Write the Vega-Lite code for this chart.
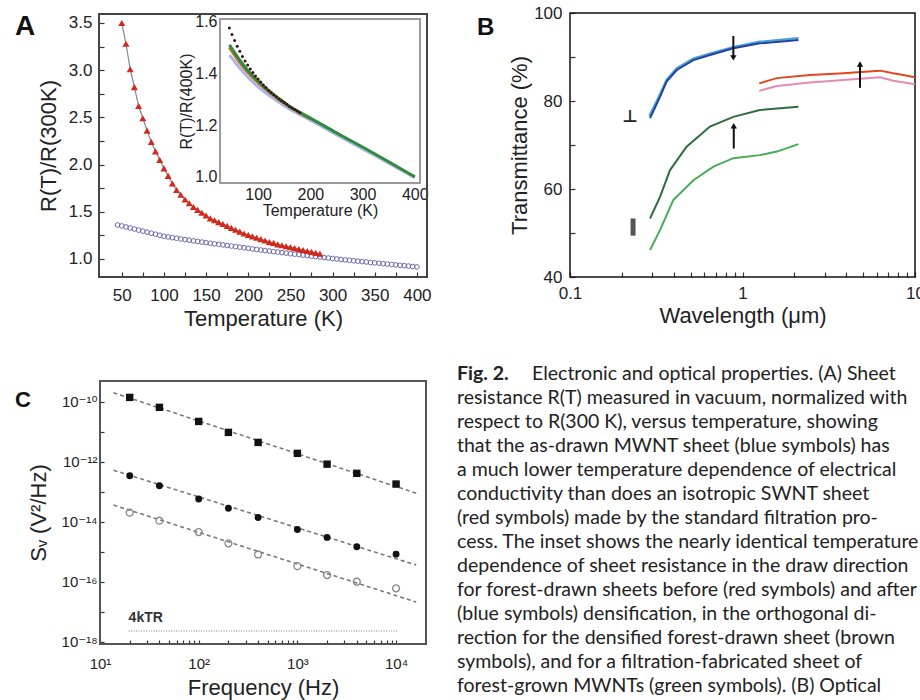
{
  "$schema": "https://vega.github.io/schema/vega-lite/v6.json",
  "width": 920,
  "height": 700,
  "autosize": {"type": "none"},
  "padding": 0,
  "background": "white",
  "config": {
    "view": {"stroke": null},
    "font": "Liberation Sans",
    "axis": {"grid": false, "domain": false, "labelFont": "Liberation Sans, DejaVu Sans", "titleFont": "Liberation Sans, DejaVu Sans", "labelColor": "#222", "titleColor": "#222", "tickColor": "#333", "titleFontWeight": "normal", "labelFlush": false, "labelOverlap": false, "tickWidth": 1.2}
  },
  "datasets": {
    "redA": [
      {"T":50,"R":3.50},{"T":55,"R":3.28},{"T":60,"R":3.01},{"T":65,"R":2.82},{"T":70,"R":2.62},{"T":75,"R":2.49},{"T":80,"R":2.36},{"T":85,"R":2.24},{"T":90,"R":2.14},{"T":95,"R":2.05},
      {"T":100,"R":1.96},{"T":105,"R":1.88},{"T":110,"R":1.80},{"T":115,"R":1.73},{"T":120,"R":1.68},{"T":125,"R":1.63},{"T":130,"R":1.59},{"T":135,"R":1.55},{"T":140,"R":1.52},{"T":145,"R":1.49},
      {"T":150,"R":1.46},{"T":155,"R":1.43},{"T":160,"R":1.41},{"T":165,"R":1.39},{"T":170,"R":1.37},{"T":175,"R":1.35},{"T":180,"R":1.33},{"T":185,"R":1.31},{"T":190,"R":1.29},{"T":195,"R":1.27},
      {"T":200,"R":1.255},{"T":205,"R":1.24},{"T":210,"R":1.225},{"T":215,"R":1.21},{"T":220,"R":1.195},{"T":225,"R":1.18},{"T":230,"R":1.17},{"T":235,"R":1.155},{"T":240,"R":1.145},{"T":245,"R":1.135},
      {"T":250,"R":1.125},{"T":255,"R":1.115},{"T":260,"R":1.105},{"T":265,"R":1.095},{"T":270,"R":1.085},{"T":275,"R":1.075},{"T":280,"R":1.065},{"T":285,"R":1.055}
    ],
    "blueA": [
      {"T":45,"R":1.36},{"T":50,"R":1.35},{"T":55,"R":1.339},{"T":60,"R":1.328},{"T":65,"R":1.317},{"T":70,"R":1.306},{"T":75,"R":1.295},{"T":80,"R":1.284},{"T":85,"R":1.273},{"T":90,"R":1.262},
      {"T":95,"R":1.251},{"T":100,"R":1.241},{"T":105,"R":1.233},{"T":110,"R":1.226},{"T":115,"R":1.219},{"T":120,"R":1.212},{"T":125,"R":1.205},{"T":130,"R":1.199},{"T":135,"R":1.192},{"T":140,"R":1.186},
      {"T":145,"R":1.179},{"T":150,"R":1.173},{"T":155,"R":1.167},{"T":160,"R":1.161},{"T":165,"R":1.155},{"T":170,"R":1.149},{"T":175,"R":1.143},{"T":180,"R":1.137},{"T":185,"R":1.131},{"T":190,"R":1.125},
      {"T":195,"R":1.119},{"T":200,"R":1.113},{"T":205,"R":1.107},{"T":210,"R":1.101},{"T":215,"R":1.095},{"T":220,"R":1.089},{"T":225,"R":1.084},{"T":230,"R":1.078},{"T":235,"R":1.073},{"T":240,"R":1.067},
      {"T":245,"R":1.062},{"T":250,"R":1.056},{"T":255,"R":1.051},{"T":260,"R":1.046},{"T":265,"R":1.041},{"T":270,"R":1.035},{"T":275,"R":1.030},{"T":280,"R":1.025},{"T":285,"R":1.020},{"T":290,"R":1.015},
      {"T":295,"R":1.010},{"T":300,"R":1.005},{"T":305,"R":1.000},{"T":310,"R":0.995},{"T":315,"R":0.990},{"T":320,"R":0.986},{"T":325,"R":0.981},{"T":330,"R":0.977},{"T":335,"R":0.972},{"T":340,"R":0.968},
      {"T":345,"R":0.963},{"T":350,"R":0.959},{"T":355,"R":0.955},{"T":360,"R":0.950},{"T":365,"R":0.946},{"T":370,"R":0.942},{"T":375,"R":0.937},{"T":380,"R":0.933},{"T":385,"R":0.929},{"T":390,"R":0.925},
      {"T":395,"R":0.920},{"T":400,"R":0.916}
    ],
    "inset": [
      {"s":"blue","T":45,"R":1.47},{"s":"blue","T":50,"R":1.458},{"s":"blue","T":60,"R":1.432},{"s":"blue","T":70,"R":1.408},{"s":"blue","T":80,"R":1.386},{"s":"blue","T":90,"R":1.366},{"s":"blue","T":100,"R":1.348},{"s":"blue","T":120,"R":1.316},{"s":"blue","T":140,"R":1.288},{"s":"blue","T":160,"R":1.262},{"s":"blue","T":180,"R":1.24},{"s":"blue","T":200,"R":1.219},{"s":"blue","T":250,"R":1.163},{"s":"blue","T":300,"R":1.108},{"s":"blue","T":350,"R":1.053},{"s":"blue","T":400,"R":0.997},
      {"s":"orange","T":45,"R":1.50},{"s":"orange","T":50,"R":1.485},{"s":"orange","T":60,"R":1.455},{"s":"orange","T":70,"R":1.428},{"s":"orange","T":80,"R":1.404},{"s":"orange","T":90,"R":1.383},{"s":"orange","T":100,"R":1.364},{"s":"orange","T":120,"R":1.329},{"s":"orange","T":140,"R":1.299},{"s":"orange","T":160,"R":1.271},{"s":"orange","T":180,"R":1.247},{"s":"orange","T":200,"R":1.225},
      {"s":"green","T":45,"R":1.51},{"s":"green","T":50,"R":1.495},{"s":"green","T":60,"R":1.465},{"s":"green","T":70,"R":1.437},{"s":"green","T":80,"R":1.412},{"s":"green","T":90,"R":1.39},{"s":"green","T":100,"R":1.37},{"s":"green","T":120,"R":1.333},{"s":"green","T":140,"R":1.302},{"s":"green","T":160,"R":1.273},{"s":"green","T":180,"R":1.249},{"s":"green","T":200,"R":1.227},{"s":"green","T":250,"R":1.17},{"s":"green","T":300,"R":1.115},{"s":"green","T":350,"R":1.058},{"s":"green","T":400,"R":1.0}
    ],
    "insetDots": [
      {"T":45,"R":1.575},{"T":50,"R":1.55},{"T":55,"R":1.527},{"T":60,"R":1.505},{"T":65,"R":1.485},{"T":70,"R":1.465},{"T":75,"R":1.448},{"T":80,"R":1.432},{"T":85,"R":1.417},{"T":90,"R":1.403},
      {"T":95,"R":1.39},{"T":100,"R":1.378},{"T":105,"R":1.366},{"T":110,"R":1.355},{"T":115,"R":1.345},{"T":120,"R":1.335},{"T":125,"R":1.326},{"T":130,"R":1.317},{"T":135,"R":1.309},{"T":140,"R":1.301},
      {"T":145,"R":1.294},{"T":150,"R":1.287},{"T":155,"R":1.28},{"T":160,"R":1.272},{"T":165,"R":1.266},{"T":170,"R":1.26},{"T":175,"R":1.254},{"T":180,"R":1.248}
    ],
    "bcurves": [
      {"s":"blueL","lam":0.288,"v":76.6},{"s":"blueL","lam":0.333,"v":81.6},{"s":"blueL","lam":0.363,"v":84.9},{"s":"blueL","lam":0.416,"v":87.5},{"s":"blueL","lam":0.519,"v":89.7},{"s":"blueL","lam":0.648,"v":90.8},{"s":"blueL","lam":0.885,"v":92.3},{"s":"blueL","lam":1.26,"v":93.5},{"s":"blueL","lam":2.11,"v":94.3},
      {"s":"blueD","lam":0.291,"v":76.1},{"s":"blueD","lam":0.333,"v":81.0},{"s":"blueD","lam":0.363,"v":84.4},{"s":"blueD","lam":0.416,"v":87.05},{"s":"blueD","lam":0.519,"v":89.3},{"s":"blueD","lam":0.648,"v":90.45},{"s":"blueD","lam":0.885,"v":91.98},{"s":"blueD","lam":1.26,"v":93.1},{"s":"blueD","lam":2.11,"v":93.86},
      {"s":"greenD","lam":0.291,"v":53.3},{"s":"greenD","lam":0.333,"v":58.25},{"s":"greenD","lam":0.38,"v":64.3},{"s":"greenD","lam":0.474,"v":69.6},{"s":"greenD","lam":0.648,"v":74.2},{"s":"greenD","lam":0.885,"v":76.4},{"s":"greenD","lam":1.26,"v":77.95},{"s":"greenD","lam":2.11,"v":78.7},
      {"s":"greenL","lam":0.291,"v":46.1},{"s":"greenL","lam":0.333,"v":50.7},{"s":"greenL","lam":0.397,"v":57.5},{"s":"greenL","lam":0.519,"v":62.0},{"s":"greenL","lam":0.678,"v":65.1},{"s":"greenL","lam":0.885,"v":67.0},{"s":"greenL","lam":1.26,"v":67.7},{"s":"greenL","lam":1.58,"v":68.5},{"s":"greenL","lam":2.11,"v":70.2},
      {"s":"red","lam":1.25,"v":84.0},{"s":"red","lam":1.58,"v":85.2},{"s":"red","lam":2.46,"v":85.9},{"s":"red","lam":3.84,"v":86.3},{"s":"red","lam":6.27,"v":86.9},{"s":"red","lam":7.48,"v":86.3},{"s":"red","lam":8.55,"v":85.9},{"s":"red","lam":10,"v":85.4},
      {"s":"pink","lam":1.25,"v":82.3},{"s":"pink","lam":1.58,"v":83.4},{"s":"pink","lam":2.46,"v":84.2},{"s":"pink","lam":3.84,"v":84.8},{"s":"pink","lam":6.27,"v":85.4},{"s":"pink","lam":7.48,"v":84.6},{"s":"pink","lam":10,"v":83.8}
    ],
    "arrows": [
      {"lam":0.885,"tail":94.8,"tip":89.8,"dir":"down"},
      {"lam":0.89,"tail":69.2,"tip":74.4,"dir":"up"},
      {"lam":4.8,"tail":83.0,"tip":88.4,"dir":"up"}
    ],
    "noise": [
      {"k":"sq","f":20,"S":1.39e-10},{"k":"sq","f":40,"S":6.5e-11},{"k":"sq","f":100,"S":2.2e-11},{"k":"sq","f":200,"S":9.5e-12},{"k":"sq","f":400,"S":4.4e-12},{"k":"sq","f":1000,"S":1.9e-12},{"k":"sq","f":2000,"S":8.3e-13},{"k":"sq","f":4000,"S":4.1e-13},{"k":"sq","f":10000,"S":1.8e-13},
      {"k":"fc","f":20,"S":3.4e-13},{"k":"fc","f":40,"S":1.58e-13},{"k":"fc","f":100,"S":5.7e-14},{"k":"fc","f":200,"S":2.8e-14},{"k":"fc","f":400,"S":1.38e-14},{"k":"fc","f":1000,"S":5.5e-15},{"k":"fc","f":2000,"S":3.0e-15},{"k":"fc","f":4000,"S":1.47e-15},{"k":"fc","f":10000,"S":8.3e-16},
      {"k":"oc","f":20,"S":2.0e-14},{"k":"oc","f":40,"S":1.08e-14},{"k":"oc","f":100,"S":4.5e-15},{"k":"oc","f":200,"S":1.9e-15},{"k":"oc","f":400,"S":8.1e-16},{"k":"oc","f":1000,"S":3.3e-16},{"k":"oc","f":2000,"S":1.66e-16},{"k":"oc","f":4000,"S":1.0e-16},{"k":"oc","f":10000,"S":6.0e-17}
    ],
    "fits": [
      {"k":"sq","f":13.7,"S":2.0e-10},{"k":"sq","f":16000,"S":8.9e-14},
      {"k":"fc","f":13.7,"S":5.2e-13},{"k":"fc","f":16000,"S":3.6e-16},
      {"k":"oc","f":13.7,"S":3.6e-14},{"k":"oc","f":16000,"S":2.1e-17}
    ],
    "ktr": [{"f":19.5,"S":2.3e-18},{"f":10300,"S":2.3e-18}],
    "caption": [
      {"line":2,"text":"resistance R(T) measured in vacuum, normalized with"},
      {"line":3,"text":"respect to R(300 K), versus temperature, showing"},
      {"line":4,"text":"that the as-drawn MWNT sheet (blue symbols) has"},
      {"line":5,"text":"a much lower temperature dependence of electrical"},
      {"line":6,"text":"conductivity than does an isotropic SWNT sheet"},
      {"line":7,"text":"(red symbols) made by the standard filtration pro-"},
      {"line":8,"text":"cess. The inset shows the nearly identical temperature"},
      {"line":9,"text":"dependence of sheet resistance in the draw direction"},
      {"line":10,"text":"for forest-drawn sheets before (red symbols) and after"},
      {"line":11,"text":"(blue symbols) densification, in the orthogonal di-"},
      {"line":12,"text":"rection for the densified forest-drawn sheet (brown"},
      {"line":13,"text":"symbols), and for a filtration-fabricated sheet of"},
      {"line":14,"text":"forest-grown MWNTs (green symbols). (B) Optical"}
    ]
  },
  "resolve": {"scale": {"x": "independent", "y": "independent", "color": "independent", "shape": "independent"}, "axis": {"x": "independent", "y": "independent"}},
  "layer": [
    {
      "data": {"values": [{}]},
      "mark": {"type": "rect", "filled": false, "stroke": "#444", "strokeWidth": 2},
      "encoding": {
        "x": {"datum": 23, "type": "quantitative", "scale": {"domain": [23, 412], "range": [99, 427], "zero": false, "nice": false}, "axis": null},
        "x2": {"datum": 412},
        "y": {"datum": 0.809, "type": "quantitative", "scale": {"domain": [0.809, 3.595], "range": [277, 14], "zero": false, "nice": false}, "axis": null},
        "y2": {"datum": 3.595}
      }
    },
    {
      "data": {"name": "blueA"},
      "mark": {"type": "point", "shape": "circle", "filled": false, "stroke": "#6b6bb0", "strokeWidth": 1, "size": 22, "opacity": 1},
      "encoding": {
        "x": {"field": "T", "type": "quantitative", "scale": {"domain": [23, 412], "range": [99, 427], "zero": false, "nice": false},
          "axis": {"orient": "bottom", "offset": -423, "values": [50,75,100,125,150,175,200,225,250,275,300,325,350,375,400], "labelExpr": "datum.value % 50 == 0 ? datum.label : ''", "title": "Temperature (K)", "titleFontSize": 22, "labelFontSize": 17, "tickSize": -5, "labelPadding": 15, "titlePadding": 5}},
        "y": {"field": "R", "type": "quantitative", "scale": {"domain": [0.809, 3.595], "range": [277, 14], "zero": false, "nice": false},
          "axis": {"orient": "left", "offset": -99, "values": [1,1.25,1.5,1.75,2,2.25,2.5,2.75,3,3.25,3.5], "labelExpr": "round(datum.value*100) % 50 == 0 ? format(datum.value, '.1f') : ''", "title": "R(T)/R(300K)", "titleFontSize": 22, "labelFontSize": 17, "tickSize": -5, "labelPadding": 12, "titlePadding": 8}}
      }
    },
    {
      "data": {"name": "redA"},
      "mark": {"type": "line", "color": "#7a8898", "strokeWidth": 1.2},
      "encoding": {
        "x": {"field": "T", "type": "quantitative", "scale": {"domain": [23, 412], "range": [99, 427], "zero": false, "nice": false}, "axis": null},
        "y": {"field": "R", "type": "quantitative", "scale": {"domain": [0.809, 3.595], "range": [277, 14], "zero": false, "nice": false}, "axis": null}
      }
    },
    {
      "data": {"name": "redA"},
      "mark": {"type": "point", "shape": "triangle-up", "filled": true, "color": "#d3281c", "size": 50, "opacity": 1},
      "encoding": {
        "x": {"field": "T", "type": "quantitative", "scale": {"domain": [23, 412], "range": [99, 427], "zero": false, "nice": false}, "axis": null},
        "y": {"field": "R", "type": "quantitative", "scale": {"domain": [0.809, 3.595], "range": [277, 14], "zero": false, "nice": false}, "axis": null}
      }
    },
    {
      "data": {"values": [{"t": "A"}]},
      "mark": {"type": "text", "font": "Liberation Sans", "fontWeight": "bold", "fontSize": 28, "align": "left", "baseline": "alphabetic", "color": "#111"},
      "encoding": {
        "x": {"datum": -76.6, "type": "quantitative", "scale": {"domain": [23, 412], "range": [99, 427], "zero": false, "nice": false}, "axis": null},
        "y": {"datum": 3.377, "type": "quantitative", "scale": {"domain": [0.809, 3.595], "range": [277, 14], "zero": false, "nice": false}, "axis": null},
        "text": {"field": "t"}
      }
    },
    {
      "data": {"values": [{}]},
      "mark": {"type": "rect", "fill": "white", "stroke": "#9a9a9a", "strokeWidth": 2},
      "encoding": {
        "x": {"datum": 27, "type": "quantitative", "scale": {"domain": [27, 410], "range": [220, 420], "zero": false, "nice": false}, "axis": null},
        "x2": {"datum": 410},
        "y": {"datum": 0.976, "type": "quantitative", "scale": {"domain": [0.976, 1.61], "range": [183, 19], "zero": false, "nice": false}, "axis": null},
        "y2": {"datum": 1.61}
      }
    },
    {
      "data": {"name": "inset"},
      "mark": {"type": "line", "interpolate": "monotone", "strokeWidth": 3},
      "encoding": {
        "x": {"field": "T", "type": "quantitative", "scale": {"domain": [27, 410], "range": [220, 420], "zero": false, "nice": false},
          "axis": {"orient": "bottom", "offset": -517, "values": [50,100,150,200,250,300,350,400], "labelExpr": "datum.value % 100 == 0 ? datum.label : ''", "title": "Temperature (K)", "titleFontSize": 16, "labelFontSize": 16, "tickSize": -4, "labelPadding": 7, "titlePadding": 0}},
        "y": {"field": "R", "type": "quantitative", "scale": {"domain": [0.976, 1.61], "range": [183, 19], "zero": false, "nice": false},
          "axis": {"orient": "left", "offset": -220, "values": [1.0,1.1,1.2,1.3,1.4,1.5,1.6], "labelExpr": "round(datum.value*10) % 2 == 0 ? format(datum.value, '.1f') : ''", "title": "R(T)/R(400K)", "titleFontSize": 16, "labelFontSize": 16, "tickSize": -4, "labelPadding": 7, "titlePadding": 0}},
        "color": {"field": "s", "type": "nominal", "scale": {"domain": ["blue", "orange", "green"], "range": ["#aab6e6", "#d06a30", "#2f8a3c"]}, "legend": null},
        "order": {"field": "s", "sort": "ascending"}
      }
    },
    {
      "data": {"name": "insetDots"},
      "mark": {"type": "point", "shape": "circle", "filled": true, "color": "#3a1414", "size": 9, "opacity": 1},
      "encoding": {
        "x": {"field": "T", "type": "quantitative", "scale": {"domain": [27, 410], "range": [220, 420], "zero": false, "nice": false}, "axis": null},
        "y": {"field": "R", "type": "quantitative", "scale": {"domain": [0.976, 1.61], "range": [183, 19], "zero": false, "nice": false}, "axis": null}
      }
    },
    {
      "data": {"values": [{}]},
      "mark": {"type": "rect", "filled": false, "stroke": "#111", "strokeWidth": 1.5},
      "encoding": {
        "x": {"datum": 0.1, "type": "quantitative", "scale": {"type": "log", "domain": [0.1, 10], "range": [570, 915], "nice": false}, "axis": null},
        "x2": {"datum": 10},
        "y": {"datum": 40, "type": "quantitative", "scale": {"domain": [40, 100], "range": [277, 13], "zero": false, "nice": false}, "axis": null},
        "y2": {"datum": 100}
      }
    },
    {
      "data": {"name": "bcurves"},
      "mark": {"type": "line", "strokeWidth": 2},
      "encoding": {
        "x": {"field": "lam", "type": "quantitative", "scale": {"type": "log", "domain": [0.1, 10], "range": [570, 915], "nice": false},
          "axis": {"orient": "bottom", "offset": -423, "values": [0.1,0.2,0.3,0.4,0.5,0.6,0.7,0.8,0.9,1,2,3,4,5,6,7,8,9,10], "labelExpr": "datum.value == 0.1 ? '0.1' : datum.value == 1 ? '1' : datum.value == 10 ? '10' : ''", "title": "Wavelength (μm)", "titleFontSize": 22, "labelFontSize": 17, "tickSize": -5, "labelPadding": 13, "titlePadding": 4}},
        "y": {"field": "v", "type": "quantitative", "scale": {"domain": [40, 100], "range": [277, 13], "zero": false, "nice": false},
          "axis": {"orient": "left", "offset": -570, "values": [40,50,60,70,80,90,100], "labelExpr": "datum.value % 20 == 0 ? datum.label : ''", "title": "Transmittance (%)", "titleFontSize": 22, "labelFontSize": 17, "tickSize": -5, "labelPadding": 13, "titlePadding": 2}},
        "color": {"field": "s", "type": "nominal", "scale": {"domain": ["blueL", "blueD", "greenD", "greenL", "red", "pink"], "range": ["#45a0e0", "#22409a", "#2c6e3c", "#44ad55", "#e3461e", "#e58ab0"]}, "legend": null}
      }
    },
    {
      "data": {"name": "arrows"},
      "mark": {"type": "rule", "color": "#111", "strokeWidth": 2},
      "encoding": {
        "x": {"field": "lam", "type": "quantitative", "scale": {"type": "log", "domain": [0.1, 10], "range": [570, 915], "nice": false}, "axis": null},
        "y": {"field": "tail", "type": "quantitative", "scale": {"domain": [40, 100], "range": [277, 13], "zero": false, "nice": false}, "axis": null},
        "y2": {"field": "tip"}
      }
    },
    {
      "data": {"name": "arrows"},
      "mark": {"type": "point", "filled": true, "color": "#111", "size": 40, "opacity": 1},
      "encoding": {
        "x": {"field": "lam", "type": "quantitative", "scale": {"type": "log", "domain": [0.1, 10], "range": [570, 915], "nice": false}, "axis": null},
        "y": {"field": "tip", "type": "quantitative", "scale": {"domain": [40, 100], "range": [277, 13], "zero": false, "nice": false}, "axis": null},
        "shape": {"field": "dir", "type": "nominal", "scale": {"domain": ["down", "up"], "range": ["triangle-down", "triangle-up"]}, "legend": null}
      }
    },
    {
      "data": {"values": [{"lam": 0.223, "v": 76.4, "t": "⊥"}]},
      "mark": {"type": "text", "font": "DejaVu Sans", "fontWeight": "bold", "fontSize": 17, "color": "#222", "align": "center", "baseline": "middle"},
      "encoding": {
        "x": {"field": "lam", "type": "quantitative", "scale": {"type": "log", "domain": [0.1, 10], "range": [570, 915], "nice": false}, "axis": null},
        "y": {"field": "v", "type": "quantitative", "scale": {"domain": [40, 100], "range": [277, 13], "zero": false, "nice": false}, "axis": null},
        "text": {"field": "t"}
      }
    },
    {
      "data": {"values": [{"lam": 0.232, "v1": 49.4, "v2": 53.3}]},
      "mark": {"type": "rule", "color": "#555", "strokeWidth": 5},
      "encoding": {
        "x": {"field": "lam", "type": "quantitative", "scale": {"type": "log", "domain": [0.1, 10], "range": [570, 915], "nice": false}, "axis": null},
        "y": {"field": "v1", "type": "quantitative", "scale": {"domain": [40, 100], "range": [277, 13], "zero": false, "nice": false}, "axis": null},
        "y2": {"field": "v2"}
      }
    },
    {
      "data": {"values": [{"t": "B"}]},
      "mark": {"type": "text", "font": "Liberation Sans", "fontWeight": "bold", "fontSize": 24, "align": "left", "baseline": "alphabetic", "color": "#111"},
      "encoding": {
        "x": {"datum": 0.0289, "type": "quantitative", "scale": {"type": "log", "domain": [0.1, 10], "range": [570, 915], "nice": false}, "axis": null},
        "y": {"datum": 95.0, "type": "quantitative", "scale": {"domain": [40, 100], "range": [277, 13], "zero": false, "nice": false}, "axis": null},
        "text": {"field": "t"}
      }
    },
    {
      "data": {"values": [{}]},
      "mark": {"type": "rect", "filled": false, "stroke": "#555", "strokeWidth": 2},
      "encoding": {
        "x": {"datum": 10, "type": "quantitative", "scale": {"type": "log", "domain": [10, 20100], "range": [100, 426], "nice": false}, "axis": null},
        "x2": {"datum": 20100},
        "y": {"datum": 8.4e-19, "type": "quantitative", "scale": {"type": "log", "domain": [8.4e-19, 4.9e-10], "range": [644, 381], "nice": false}, "axis": null},
        "y2": {"datum": 4.9e-10}
      }
    },
    {
      "data": {"name": "fits"},
      "mark": {"type": "line", "color": "#7a7a7a", "strokeWidth": 1.6, "strokeDash": [4, 3]},
      "encoding": {
        "x": {"field": "f", "type": "quantitative", "scale": {"type": "log", "domain": [10, 20100], "range": [100, 426], "nice": false},
          "axis": {"orient": "bottom", "offset": -56, "values": [10,20,30,40,50,60,70,80,90,100,200,300,400,500,600,700,800,900,1000,2000,3000,4000,5000,6000,7000,8000,9000,10000], "labelExpr": "datum.value == 10 ? '10¹' : datum.value == 100 ? '10²' : datum.value == 1000 ? '10³' : datum.value == 10000 ? '10⁴' : ''", "title": "Frequency (Hz)", "titleFontSize": 22, "labelFontSize": 15, "tickSize": -4, "labelPadding": 16, "titlePadding": 6}},
        "y": {"field": "S", "type": "quantitative", "scale": {"type": "log", "domain": [8.4e-19, 4.9e-10], "range": [644, 381], "nice": false},
          "axis": {"orient": "left", "offset": -100, "values": [1e-18,1e-17,1e-16,1e-15,1e-14,1e-13,1e-12,1e-11,1e-10], "labelExpr": "datum.value < 2e-18 ? '10⁻¹⁸' : (datum.value > 5e-17 && datum.value < 2e-16) ? '10⁻¹⁶' : (datum.value > 5e-15 && datum.value < 2e-14) ? '10⁻¹⁴' : (datum.value > 5e-13 && datum.value < 2e-12) ? '10⁻¹²' : (datum.value > 5e-11 && datum.value < 2e-10) ? '10⁻¹⁰' : ''", "title": "Sᵥ (V²/Hz)", "titleFontSize": 22, "labelFontSize": 15, "tickSize": -4, "labelPadding": 7, "titlePadding": 10}},
        "detail": {"field": "k"}
      }
    },
    {
      "data": {"name": "ktr"},
      "mark": {"type": "line", "color": "#a8a8a8", "strokeWidth": 1.5, "strokeDash": [1, 1.5]},
      "encoding": {
        "x": {"field": "f", "type": "quantitative", "scale": {"type": "log", "domain": [10, 20100], "range": [100, 426], "nice": false}, "axis": null},
        "y": {"field": "S", "type": "quantitative", "scale": {"type": "log", "domain": [8.4e-19, 4.9e-10], "range": [644, 381], "nice": false}, "axis": null}
      }
    },
    {
      "data": {"values": [{"f": 19.5, "S": 4.7e-18, "t": "4kTR"}]},
      "mark": {"type": "text", "font": "Liberation Sans", "fontWeight": "bold", "fontSize": 14, "color": "#333", "align": "left", "baseline": "alphabetic"},
      "encoding": {
        "x": {"field": "f", "type": "quantitative", "scale": {"type": "log", "domain": [10, 20100], "range": [100, 426], "nice": false}, "axis": null},
        "y": {"field": "S", "type": "quantitative", "scale": {"type": "log", "domain": [8.4e-19, 4.9e-10], "range": [644, 381], "nice": false}, "axis": null},
        "text": {"field": "t"}
      }
    },
    {
      "data": {"name": "noise"},
      "transform": [{"filter": "datum.k == 'sq'"}],
      "mark": {"type": "point", "shape": "square", "filled": true, "color": "#111", "size": 55, "opacity": 1},
      "encoding": {
        "x": {"field": "f", "type": "quantitative", "scale": {"type": "log", "domain": [10, 20100], "range": [100, 426], "nice": false}, "axis": null},
        "y": {"field": "S", "type": "quantitative", "scale": {"type": "log", "domain": [8.4e-19, 4.9e-10], "range": [644, 381], "nice": false}, "axis": null}
      }
    },
    {
      "data": {"name": "noise"},
      "transform": [{"filter": "datum.k == 'fc'"}],
      "mark": {"type": "point", "shape": "circle", "filled": true, "color": "#111", "size": 48, "opacity": 1},
      "encoding": {
        "x": {"field": "f", "type": "quantitative", "scale": {"type": "log", "domain": [10, 20100], "range": [100, 426], "nice": false}, "axis": null},
        "y": {"field": "S", "type": "quantitative", "scale": {"type": "log", "domain": [8.4e-19, 4.9e-10], "range": [644, 381], "nice": false}, "axis": null}
      }
    },
    {
      "data": {"name": "noise"},
      "transform": [{"filter": "datum.k == 'oc'"}],
      "mark": {"type": "point", "shape": "circle", "filled": false, "stroke": "#888", "strokeWidth": 1.3, "size": 48, "opacity": 1},
      "encoding": {
        "x": {"field": "f", "type": "quantitative", "scale": {"type": "log", "domain": [10, 20100], "range": [100, 426], "nice": false}, "axis": null},
        "y": {"field": "S", "type": "quantitative", "scale": {"type": "log", "domain": [8.4e-19, 4.9e-10], "range": [644, 381], "nice": false}, "axis": null}
      }
    },
    {
      "data": {"values": [{"t": "C"}]},
      "mark": {"type": "text", "font": "Liberation Sans", "fontWeight": "bold", "fontSize": 22, "align": "left", "baseline": "alphabetic", "color": "#111"},
      "encoding": {
        "x": {"datum": 1.375, "type": "quantitative", "scale": {"type": "log", "domain": [10, 20100], "range": [100, 426], "nice": false}, "axis": null},
        "y": {"datum": 6.66e-11, "type": "quantitative", "scale": {"type": "log", "domain": [8.4e-19, 4.9e-10], "range": [644, 381], "nice": false}, "axis": null},
        "text": {"field": "t"}
      }
    },
    {
      "data": {"name": "caption"},
      "mark": {"type": "text", "font": "Lato", "fontSize": 19.5, "color": "#222", "align": "left", "baseline": "alphabetic"},
      "encoding": {
        "x": {"datum": 0, "type": "quantitative", "scale": {"domain": [0, 1], "range": [457, 918], "zero": false, "nice": false}, "axis": null},
        "y": {"field": "line", "type": "quantitative", "scale": {"domain": [1, 14], "range": [380, 691.7], "zero": false, "nice": false}, "axis": null},
        "text": {"field": "text"}
      }
    },
    {
      "data": {"values": [{"line": 1, "text": "Fig. 2."}]},
      "mark": {"type": "text", "font": "Lato", "fontWeight": "bold", "fontSize": 19.5, "color": "#222", "align": "left", "baseline": "alphabetic"},
      "encoding": {
        "x": {"datum": 0, "type": "quantitative", "scale": {"domain": [0, 1], "range": [457, 918], "zero": false, "nice": false}, "axis": null},
        "y": {"field": "line", "type": "quantitative", "scale": {"domain": [1, 14], "range": [380, 691.7], "zero": false, "nice": false}, "axis": null},
        "text": {"field": "text"}
      }
    },
    {
      "data": {"values": [{"line": 1, "text": "Electronic and optical properties. (A) Sheet"}]},
      "mark": {"type": "text", "font": "Lato", "fontSize": 19.5, "color": "#222", "align": "left", "baseline": "alphabetic", "dx": 75},
      "encoding": {
        "x": {"datum": 0, "type": "quantitative", "scale": {"domain": [0, 1], "range": [457, 918], "zero": false, "nice": false}, "axis": null},
        "y": {"field": "line", "type": "quantitative", "scale": {"domain": [1, 14], "range": [380, 691.7], "zero": false, "nice": false}, "axis": null},
        "text": {"field": "text"}
      }
    }
  ]
}
